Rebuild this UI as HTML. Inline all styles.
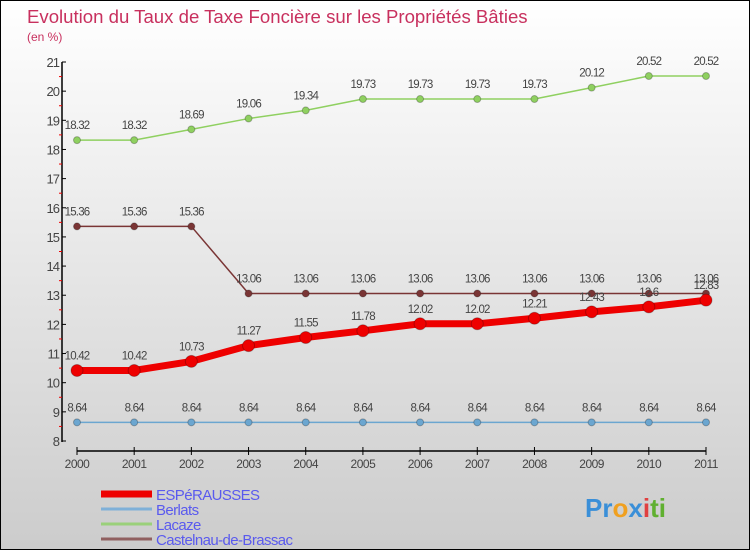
<!DOCTYPE html>
<html><head><meta charset="utf-8"><style>
body{margin:0}
#c{width:748px;height:548px;border:1px solid #000;background:linear-gradient(#fff,#ccc);position:relative;font-family:"Liberation Sans",sans-serif;overflow:hidden}
</style></head><body>
<div id="c">
<svg id="s" width="748" height="548" xmlns="http://www.w3.org/2000/svg">
<text x="26" y="22" font-size="18.6" fill="#c8305e">Evolution du Taux de Taxe Foncière sur les Propriétés Bâties</text>
<text x="26" y="40" font-size="12" fill="#c8305e">(en %)</text>
<text x="584" y="516" font-size="26" font-weight="bold"><tspan fill="#3a8fd8">Pr</tspan><tspan fill="#f0a020">o</tspan><tspan fill="#3a8fd8">x</tspan><tspan fill="#e04040">i</tspan><tspan fill="#60b030">ti</tspan></text>
</svg>
</div>
<script>
const years=["2000","2001","2002","2003","2004","2005","2006","2007","2008","2009","2010","2011"];
const esperausses=[10.42,10.42,10.73,11.27,11.55,11.78,12.02,12.02,12.21,12.43,12.6,12.83];
const berlats=[8.64,8.64,8.64,8.64,8.64,8.64,8.64,8.64,8.64,8.64,8.64,8.64];
const lacaze=[18.32,18.32,18.69,19.06,19.34,19.73,19.73,19.73,19.73,20.12,20.52,20.52];
const castelnau=[15.36,15.36,15.36,13.06,13.06,13.06,13.06,13.06,13.06,13.06,13.06,13.06];
const yTicks=[8,9,10,11,12,13,14,15,16,17,18,19,20,21];
const seriesNames=["ESPéRAUSSES","Berlats","Lacaze","Castelnau-de-Brassac"];
const s=document.getElementById('s');
const NS="http://www.w3.org/2000/svg";
function X(i){return 76+i*(629/11);}
function Y(v){return 440-(v-8)*(379/13);}
function mk(t,a,p){const e=document.createElementNS(NS,t);for(const k in a)e.setAttribute(k,a[k]);(p||s).appendChild(e);return e;}
let e=mk('line',{x1:61,y1:61,x2:61,y2:441,stroke:'#000','stroke-width':1.5});


e=mk('line',{x1:76,y1:450,x2:705,y2:450,stroke:'#000','stroke-width':1.5});


yTicks.forEach((t,k)=>{
  mk('line',{x1:61,y1:Y(t),x2:65,y2:Y(t),stroke:'#000'});
  if(k<yTicks.length-1)mk('line',{x1:58,y1:Y(t+0.5),x2:61,y2:Y(t+0.5),stroke:'#e00'});
  e=mk('text',{x:58,y:Y(t)+5,'font-size':13,fill:'#444','text-anchor':'end','letter-spacing':'-1'});
  e.textContent=t;
  
  
});
years.forEach((y,i)=>{
  mk('line',{x1:X(i),y1:446,x2:X(i),y2:454,stroke:'#000'});
  e=mk('text',{x:X(i),y:467,'font-size':12,fill:'#444','text-anchor':'middle','letter-spacing':'-0.5'});
  e.textContent=y;
  
  
});
function series(data,color,w,r,name){
  const g=mk('g',{});
  
  
  mk('polyline',{points:data.map((v,i)=>X(i)+','+Y(v)).join(' '),fill:'none',stroke:color,'stroke-width':w,'stroke-linejoin':'round'},g);
  data.forEach((v,i)=>{
    const c=mk('circle',{cx:X(i),cy:Y(v),r:r,fill:color,stroke:'rgba(0,0,0,0.25)','stroke-width':1},g);
    
    
    const t=mk('text',{x:X(i),y:Y(v)-11,'font-size':11.5,fill:'#444','text-anchor':'middle','letter-spacing':'-0.8'},g);
    t.textContent=v;
    
    
  });
}
series(lacaze,'#8fd060',1.5,3.5,'lacaze-series');
series(castelnau,'#7a3535',1.5,3.5,'castelnau-series');
series(berlats,'#6ba6d0',1.5,3.5,'berlats-series');
series(esperausses,'#ee0000',7,6,'esperausses-series');
const lc=['#ee0000','#7fb0d8','#9ad07a','#906060'];
const lw=[7,3,3,3];
seriesNames.forEach((n,k)=>{
  const y=493+k*15;
  const g=mk('g',{});
  
  
  mk('line',{x1:100,y1:y,x2:151,y2:y,stroke:lc[k],'stroke-width':lw[k]},g);
  const t=mk('text',{x:155,y:y+6,'font-size':15,fill:'#5a5aee','letter-spacing':'-0.6'},g);
  t.textContent=n;
});
</script>
</body></html>
